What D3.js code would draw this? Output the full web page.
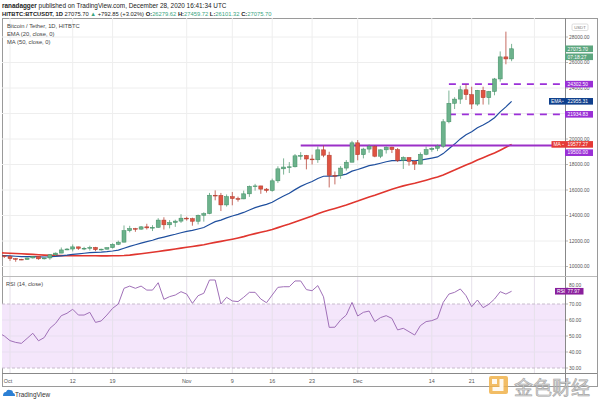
<!DOCTYPE html>
<html><head><meta charset="utf-8">
<script src="https://cdn.jsdelivr.net/npm/d3@7"></script>
<style>body{margin:0;background:#fff}svg{display:block}</style>
</head><body><svg id="c" width="600" height="400"></svg>
<script>
// ---- data (Sep 29 2020 .. Dec 28 2020, daily) ----
const startDay = "2020-09-29";
const opens = [10690,10840,10776,10620,10570,10550,10670,10790,10600,10670,10920,11050,11300,11370,11540,11420,11430,11500,11320,11360,11480,11740,11910,12810,12980,12930,13110,13030,13070,13640,13270,13450,13560,
 13790,13760,13550,14020,14150,15590,15580,14830,15480,15330,15300,15700,16280,16320,16070,15960,16720,17660,17800,17820,18680,18710,18430,18370,19150,18730,17150,17140,17720,18180,
 19700,18770,19210,19420,18650,19150,19360,19170,18320,18550,18250,18030,18800,19170,19270,19440,21350,22800,23130,23860,23480,22740,23820,23240,23730,24710,26440,26280];
const highs = [10860,10850,10920,10670,10600,10700,10800,10800,10680,10960,11100,11490,11440,11730,11560,11540,11630,11540,11400,11490,11820,12030,13220,13190,13030,13170,13350,13240,13790,13860,13640,13670,14100,
 13900,13830,14070,14250,15770,15970,15770,15650,15840,15480,15950,16350,16480,16330,16150,16890,17860,18480,18190,18820,18970,18750,18770,19420,19490,19000,17450,17880,18350,19860,
 19920,19310,19570,19510,19180,19420,19390,19290,18640,18560,18290,18950,19410,19350,19570,21560,23800,23280,24170,24300,24100,23850,24100,23770,24790,26870,28420,27459.72];
const lows = [10630,10670,10440,10370,10500,10530,10620,10530,10550,10530,10830,11050,11280,11180,11300,11280,11250,11200,11250,11330,11410,11680,11890,12680,12720,12880,12900,12780,13040,12900,12990,13110,13420,
 13600,13200,13300,13520,14100,15190,14350,14700,14800,15090,15280,15460,15950,15700,15800,15870,16560,17210,17330,17770,18370,17620,18000,18130,18570,16200,16440,16880,17520,18180,
 18330,18480,18920,18570,18500,18860,18900,18200,17650,17910,17570,18020,18730,19000,19050,19300,21230,22350,22750,23060,22350,22600,22700,22700,23430,24500,25860,26101.32];
const closes = [10840,10775,10620,10570,10550,10670,10790,10600,10670,10920,11050,11300,11370,11540,11420,11430,11500,11320,11360,11480,11740,11910,12810,12980,12930,13110,13030,13070,13640,13270,13450,13560,13790,
 13760,13550,14020,14150,15590,15580,14830,15480,15330,15300,15700,16280,16320,16070,15960,16720,17660,17800,17820,18680,18710,18430,18370,19150,18730,17150,17140,17720,18180,19700,
 18770,19210,19420,18650,19150,19360,19170,18320,18550,18250,18030,18800,19170,19270,19440,21350,22800,23130,23860,23480,22740,23820,23240,23730,24710,26440,26280,27075.70];
const ema20 = [10858,10850,10828,10803,10779,10769,10771,10755,10747,10763,10790,10839,10890,10952,10997,11038,11081,11104,11128,11162,11217,11283,11428,11576,11705,11839,11952,12058,12209,12310,12419,12528,12648,
 12754,12830,12943,13058,13299,13516,13641,13816,13960,14088,14241,14435,14614,14753,14868,15044,15293,15532,15750,16029,16284,16488,16667,16903,17077,17084,17089,17149,17247,17481,
 17604,17757,17915,17985,18096,18216,18307,18308,18331,18323,18295,18343,18422,18503,18592,18855,19231,19602,20007,20338,20567,20877,21102,21352,21672,22126,22521,22955.31];
const ma50 = [11075,11063,11044,11020,10996,10972,10950,10916,10890,10873,10857,10853,10846,10844,10838,10839,10840,10840,10837,10837,10838,10843,10861,10893,10948,11001,11058,11114,11180,11243,11307,11372,11440,
 11506,11570,11637,11704,11797,11890,11968,12056,12144,12242,12345,12466,12578,12685,12790,12909,13048,13188,13329,13490,13653,13810,13964,14131,14294,14424,14548,14681,14819,14986,
 15130,15286,15446,15589,15746,15906,16060,16191,16324,16433,16534,16651,16772,16897,17025,17179,17369,17563,17769,17963,18142,18348,18532,18724,18906,19123,19352,19577.27];
const rsi14 = [52,50,47.1,46,45.4,48.5,51.7,47,49,54.8,57.9,62.7,64.2,66.7,63.1,63.1,64.8,58.5,59.4,63.1,67.3,70,79.8,81.2,79.8,81.2,78.7,78.7,83.3,72.9,74.6,75.6,77.7,
 76.2,70.4,75.2,76.7,85,85,70,74.2,71.9,71.5,74.2,77.3,77.3,73.1,70.8,75.6,80.4,80.8,80.8,84.4,84.4,79,78.3,81.5,74.5,55.4,55.5,60,63.1,71,
 62.5,64.8,65.6,59,61.5,62.7,61,53.8,54.8,52.7,50.6,56.5,59,59.6,61,71,76.2,77.3,79.4,75.2,68.3,72.5,67.7,69.8,73.1,77.7,76.2,77.97];
const priceTicks = [10000,12000,14000,16000,18000,20000,22000,24000,26000,28000];
const rsiGrid = [40,50,60];
const rsiBand = [30,70];
const rsiLabels = [30,40,50,60,70,80];
const dateTicks = ["2020-10-01","2020-10-12","2020-10-19","2020-11-01","2020-11-09","2020-11-16","2020-11-23","2020-12-01","2020-12-14","2020-12-21","2021-01-01"];
const dateLabels = ["Oct","12","19","Nov","9","16","23","Dec","14","21",""];
const dashedLevels = [24302.50, 21934.83];
const dashedFrom = "2020-12-17";
const solidLevel = 19500.00;
const solidFrom = "2020-11-21";

// ---- layout ----
const svg = d3.select("#c");
const font = "'Liberation Sans', Arial, sans-serif";
const PL = 2, PR = 565, MT = 18, MB = 276.5, RT = 277, RB = 373;
const days = d3.utcDay.range(new Date(startDay), d3.utcDay.offset(new Date(startDay), closes.length));
const x = d3.scaleUtc().domain([new Date("2020-09-29"), new Date("2021-01-01")]).range([-1.4, 534.4]);
const y = d3.scaleLinear().domain([10000, 28000]).range([266.5, 37]);
const yr = d3.scaleLinear().domain([30, 70]).range([368, 304]);

const defs = svg.append("defs");
defs.append("clipPath").attr("id","cm").append("rect").attr("x",PL).attr("y",MT).attr("width",PR-PL).attr("height",MB-MT);
defs.append("clipPath").attr("id","cr").append("rect").attr("x",PL).attr("y",RT).attr("width",PR-PL).attr("height",RB-RT);

// header
const h1 = svg.append("text").attr("x",2).attr("y",7.5).attr("font-family",font).attr("font-size",6.4).attr("fill","#222");
h1.append("tspan").attr("font-weight","bold").text("ranadagger");
h1.append("tspan").text(" published on TradingView.com, December 28, 2020 16:41:34 UTC");
const h2 = svg.append("text").attr("x",2).attr("y",15.5).attr("font-family",font).attr("font-size",5.8).attr("font-weight","bold").attr("fill","#222");
const green = "#3aa580";
h2.append("tspan").text("HITBTC:BTCUSDT, 1D  ");
h2.append("tspan").attr("font-weight","normal").text("27075.70 ");
h2.append("tspan").attr("fill",green).text("▲");
h2.append("tspan").attr("font-weight","normal").text(" +792.85 (+3.02%) ");
[["O:","26279.62"],["H:","27459.72"],["L:","26101.32"],["C:","27075.70"]].forEach(([k,v])=>{
  h2.append("tspan").text(" "+k);
  h2.append("tspan").attr("fill",green).attr("font-weight","normal").text(v);
});

// frame
svg.append("rect").attr("x",2.5).attr("y",18.5).attr("width",595).attr("height",368).attr("fill","none").attr("stroke","#9a9a9a").attr("stroke-width",1);

// grids (main)
const gm = svg.append("g");
gm.selectAll("line.h").data(priceTicks).join("line").attr("x1",PL).attr("x2",PR).attr("y1",d=>y(d)).attr("y2",d=>y(d)).attr("stroke","#eeeeee");
gm.selectAll("line.v").data(dateTicks).join("line").attr("x1",d=>x(new Date(d))).attr("x2",d=>x(new Date(d))).attr("y1",MT).attr("y2",MB).attr("stroke","#eeeeee");

// RSI pane
const gr = svg.append("g");
gr.append("rect").attr("x",PL).attr("width",PR-PL).attr("y",yr(rsiBand[1])).attr("height",yr(rsiBand[0])-yr(rsiBand[1])).attr("fill","#f4e6fb");
gr.selectAll("line.v").data(dateTicks).join("line").attr("x1",d=>x(new Date(d))).attr("x2",d=>x(new Date(d))).attr("y1",RT).attr("y2",RB).attr("stroke","#e6e0ea");
gr.selectAll("line.h").data(rsiGrid).join("line").attr("x1",PL).attr("x2",PR).attr("y1",d=>yr(d)).attr("y2",d=>yr(d)).attr("stroke","#e8dff0");
gr.selectAll("line.b").data(rsiBand).join("line").attr("x1",PL).attr("x2",PR).attr("y1",d=>yr(d)).attr("y2",d=>yr(d)).attr("stroke","#c8bccd").attr("stroke-dasharray","3,2");
gr.append("path").datum(rsi14).attr("clip-path","url(#cr)")
  .attr("d", d3.line().x((d,i)=>x(days[i])).y(d=>yr(d)))
  .attr("fill","none").attr("stroke","#a070b8").attr("stroke-width",1);
svg.append("text").attr("x",6).attr("y",285.5).attr("font-family",font).attr("font-size",5.6).attr("fill","#444").text("RSI (14, close)");

// lines
const main = svg.append("g").attr("clip-path","url(#cm)");
main.append("path").datum(ma50).attr("d", d3.line().x((d,i)=>x(days[i])).y(d=>y(d))).attr("fill","none").attr("stroke","#e0362f").attr("stroke-width",1.6);
main.append("path").datum(ema20).attr("d", d3.line().x((d,i)=>x(days[i])).y(d=>y(d))).attr("fill","none").attr("stroke","#1f4f9e").attr("stroke-width",1.2);

// support/resistance levels
main.append("line").attr("x1",x(new Date(solidFrom))).attr("x2",PR).attr("y1",y(solidLevel)).attr("y2",y(solidLevel)).attr("stroke","#9b30c8").attr("stroke-width",2);
main.selectAll("line.d").data(dashedLevels).join("line").attr("x1",x(new Date(dashedFrom))).attr("x2",PR).attr("y1",d=>y(d)).attr("y2",d=>y(d))
  .attr("stroke","#9b30d8").attr("stroke-width",1.6).attr("stroke-dasharray","7,6");

// candles
const idx = d3.range(closes.length);
const cg = main.append("g");
const up = i => closes[i] >= opens[i];
cg.selectAll("line").data(idx).join("line")
  .attr("x1",i=>x(days[i])).attr("x2",i=>x(days[i])).attr("y1",i=>y(highs[i])).attr("y2",i=>y(lows[i]))
  .attr("stroke",i=>up(i)?"#5a9f7a":"#b9463a").attr("stroke-width",0.8);
cg.selectAll("rect").data(idx).join("rect")
  .attr("x",i=>x(days[i])-2).attr("width",4)
  .attr("y",i=>y(Math.max(opens[i],closes[i])))
  .attr("height",i=>Math.max(0.8, Math.abs(y(opens[i])-y(closes[i]))))
  .attr("fill",i=>up(i)?"#6cb28c":"#df5342").attr("stroke",i=>up(i)?"#3f8c62":"#ad3b2d").attr("stroke-width",0.5);

// legend
["Bitcoin / Tether, 1D, HITBTC","EMA (20, close, 0)","MA (50, close, 0)"].forEach((t,i)=>{
  svg.append("text").attr("x",7).attr("y",27.5+i*8.3).attr("font-family",font).attr("font-size",5.8).attr("fill","#444").text(t);
});

// axes separators
svg.append("line").attr("x1",PR+0.5).attr("x2",PR+0.5).attr("y1",MT).attr("y2",386).attr("stroke","#888");
svg.append("line").attr("x1",PL).attr("x2",597).attr("y1",276.5).attr("y2",276.5).attr("stroke","#bbb");
svg.append("line").attr("x1",PL).attr("x2",597).attr("y1",RB+0.5).attr("y2",RB+0.5).attr("stroke","#888");

// price axis
const ax = svg.append("g").attr("font-family",font).attr("font-size",4.9).attr("fill","#555");
priceTicks.forEach(p=>{
  ax.append("line").attr("x1",PR).attr("x2",PR+3).attr("y1",y(p)).attr("y2",y(p)).attr("stroke","#888").attr("stroke-width",0.6);
  ax.append("text").attr("x",569).attr("y",y(p)+1.8).text(d3.format(".2f")(p));
});
rsiLabels.forEach(v=>{
  ax.append("line").attr("x1",PR).attr("x2",PR+3).attr("y1",yr(v)).attr("y2",yr(v)).attr("stroke","#888").attr("stroke-width",0.6);
  ax.append("text").attr("x",569).attr("y",v===80 ? yr(v)-0.8 : yr(v)+1.8).text(d3.format(".2f")(v));
});
// USDT box
svg.append("rect").attr("x",572).attr("y",24).attr("width",16).attr("height",6.5).attr("rx",1.2).attr("fill","#fff").attr("stroke","#c8c8c8").attr("stroke-width",0.6);
svg.append("text").attr("x",580).attr("y",28.8).attr("text-anchor","middle").attr("font-family",font).attr("font-size",4.3).attr("fill","#777").text("USDT");

// value boxes
function box(x0, x1, yc, color, label, value){
  svg.append("rect").attr("x",x0).attr("y",yc-3.3).attr("width",x1-x0).attr("height",6.6).attr("fill",color);
  if(label) svg.append("text").attr("x",x0+2).attr("y",yc+1.8).attr("font-family",font).attr("font-size",4.9).attr("fill","#fff").text(label);
  svg.append("text").attr("x",567.5).attr("y",yc+1.8).attr("font-family",font).attr("font-size",4.9).attr("fill","#fff").text(value);
}
const lastC = closes[closes.length-1];
box(565, 593, y(lastC), "#5da67f", null, d3.format(".2f")(lastC));
box(565, 593, y(lastC)+8, "#5da67f", null, "07:18:27");
box(565, 593, y(dashedLevels[0]), "#9a2fd6", null, d3.format(".2f")(dashedLevels[0]));
box(549, 593, y(ema20[ema20.length-1]), "#0f3f8c", "EMA", "22955.31");
box(565, 593, y(dashedLevels[1]), "#9a2fd6", null, d3.format(".2f")(dashedLevels[1]));
box(551.5, 593, y(ma50[ma50.length-1]), "#e53935", "MA", "19577.27");
box(565, 593, y(solidLevel)+7.3, "#9a2fd6", null, d3.format(".2f")(solidLevel));
box(555, 583.5, yr(rsi14[rsi14.length-1]), "#8a1f9c", "RSI", "77.97");
[[y(ema20[ema20.length-1])],[y(ma50[ma50.length-1])],[yr(rsi14[rsi14.length-1])]].forEach(([yy])=>{
  svg.append("line").attr("x1",562).attr("x2",564).attr("y1",yy).attr("y2",yy).attr("stroke","#fff").attr("stroke-width",0.5);
});

// date axis
const dx = svg.append("g").attr("font-family",font).attr("font-size",5.4).attr("fill","#555").attr("text-anchor","middle");
dateTicks.forEach((d,i)=>{
  if(!dateLabels[i]) return;
  const xx = i===0 ? 8 : x(new Date(d));
  dx.append("text").attr("x",xx).attr("y",383).text(dateLabels[i]);
});

// TradingView logo
svg.append("path").attr("d","M3,396 q0,-4 3,-4 q1,-3 4,-2 q3,0 3,3 q2,0 2,3 z").attr("fill","#2b7fd4");
svg.append("text").attr("x",15).attr("y",396.5).attr("font-family",font).attr("font-size",6.4).attr("fill","#333").text("TradingView");

// watermark
svg.append("rect").attr("x",489).attr("y",376).attr("width",19).attr("height",18).attr("rx",2).attr("fill","#f0b24a").attr("opacity",0.85);
svg.append("path").attr("d","M499.5,379 h4 v12 h-11 v-4 h7 z").attr("fill","#fff").attr("opacity",0.9);
svg.append("rect").attr("x",492).attr("y",379).attr("width",5).attr("height",5).attr("fill","#fff").attr("opacity",0.9);
svg.append("text").attr("x",514).attr("y",394.5).attr("font-family","'Noto Sans CJK SC', sans-serif").attr("font-size",19)
  .attr("fill","#d4d4d4").attr("stroke","#9a9a9a").attr("stroke-width",0.6).attr("opacity",0.9).text("金色财经");
</script></body></html>
